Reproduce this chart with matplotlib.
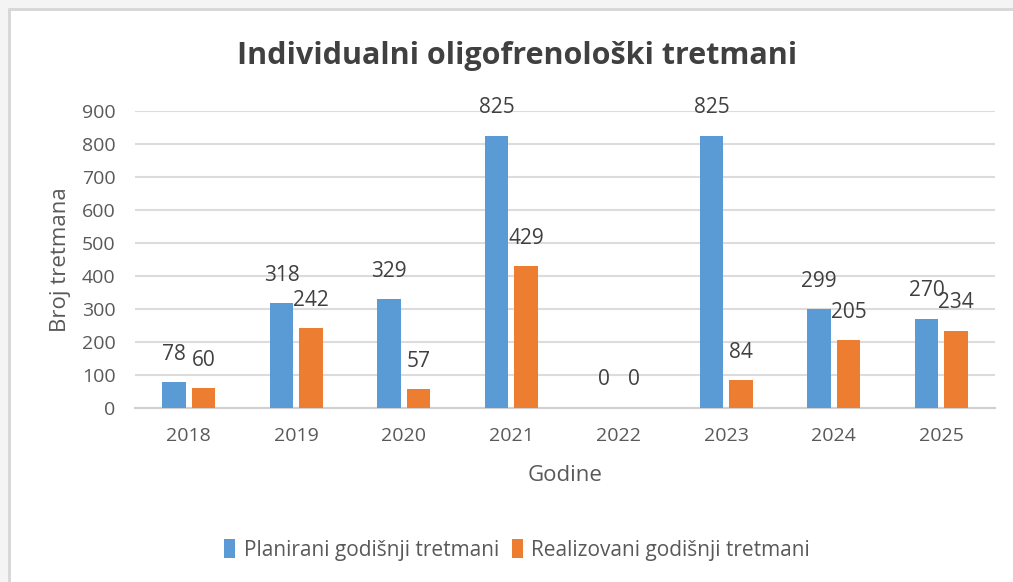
import numpy as np
import matplotlib.pyplot as plt
from matplotlib.patches import Rectangle

# chart data
godine = ['2018', '2019', '2020', '2021', '2022', '2023', '2024', '2025']
planirani = [78, 318, 329, 825, 0, 825, 299, 270]
realizovani = [60, 242, 57, 429, 0, 84, 205, 234]
serije = ['Planirani godišnji tretmani', 'Realizovani godišnji tretmani']

plava = '#5B9BD5'
narandzasta = '#ED7D31'
tekst = '#595959'

plt.rcParams['font.family'] = ['Open Sans', 'DejaVu Sans']

fig = plt.figure(figsize=(10.13, 5.82), dpi=100)
fig.patch.set_facecolor('#f4f4f4')
# white chart area with light border (drawn behind the axes)
fig.patches.append(Rectangle((9 / 1013, -0.01), 1.0, 1.01 - 9 / 582,
                             transform=fig.transFigure, facecolor='white',
                             edgecolor='#d6d6d6', linewidth=2, zorder=-5))

ax = fig.add_axes([135 / 1013, 174 / 582, 860 / 1013, 297 / 582])
ax.set_facecolor('none')

x = np.arange(len(godine))
w = 0.215
gap = 0.03
b1 = ax.bar(x - w / 2 - gap, planirani, w, color=plava, label=serije[0], zorder=3)
b2 = ax.bar(x + w / 2 + gap, realizovani, w, color=narandzasta, label=serije[1], zorder=3)

for bars, vals in ((b1, planirani), (b2, realizovani)):
    for r, v in zip(bars, vals):
        ax.text(r.get_x() + r.get_width() / 2, v + 85, str(v), ha='center',
                va='center', fontsize=15, color='#404040')

ax.set_ylim(0, 900)
ax.set_xlim(-0.5, len(godine) - 0.5)
ax.set_yticks(range(0, 901, 100))
ax.set_xticks(x)
ax.set_xticklabels(godine)
ax.tick_params(axis='both', length=0, labelsize=14, colors=tekst)
ax.tick_params(axis='x', pad=14)
ax.tick_params(axis='y', pad=14)
ax.grid(axis='y', color='#dcdcdc', linewidth=1.5, zorder=0)
for s in ['top', 'right', 'left']:
    ax.spines[s].set_visible(False)
ax.spines['bottom'].set_color('#d0d0d0')
ax.spines['bottom'].set_linewidth(1.5)

ax.set_xlabel('Godine', fontsize=16, color=tekst, labelpad=14)
ax.set_ylabel('Broj tretmana', fontsize=16, color=tekst, labelpad=8)

fig.text(517 / 1013, 1 - 56 / 582, 'Individualni oligofrenološki tretmani',
         ha='center', va='center', fontsize=22, fontweight='bold', color='#404040')

fig.legend(handles=[b1, b2], loc='center', bbox_to_anchor=(517 / 1013, 1 - 550 / 582),
           ncol=2, frameon=False, fontsize=15, handlelength=0.55, handleheight=1.0,
           handletextpad=0.4, columnspacing=0.6, labelcolor=tekst)

fig.savefig('out.png', dpi=100, facecolor=fig.get_facecolor())
